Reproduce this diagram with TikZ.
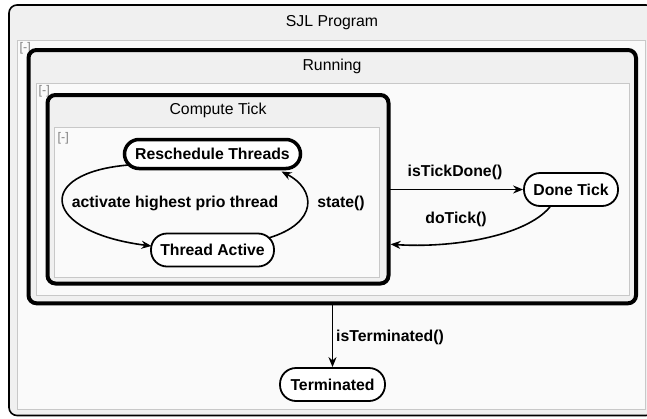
\documentclass[tikz,border=0pt]{standalone}
\usepackage{fontspec}
\setmainfont{Liberation Sans}
\usetikzlibrary{arrows.meta,calc}
\definecolor{hdr}{HTML}{F0F0F0}
\definecolor{inr}{HTML}{FAFAFA}
\definecolor{inrline}{HTML}{C8C8C8}
\definecolor{colgray}{HTML}{808080}
\tikzset{
  container/.style={draw=black, line width=4pt, rounded corners=8pt, fill=hdr, outer sep=0pt, inner sep=0pt, anchor=north west},
  outerbox/.style={draw=black, line width=1.6pt, rounded corners=8pt, fill=hdr, outer sep=0pt, inner sep=0pt, anchor=north west},
  region/.style={draw=inrline, line width=1pt, fill=inr},
  boxtitle/.style={font=\fontsize{15.8}{18}\selectfont, inner sep=0pt},
  collapse/.style={text=colgray, font=\fontsize{12.5}{14}\selectfont, inner sep=0pt, anchor=north west},
  statebox/.style={draw=black, line width=1.8pt, rounded corners=16pt, fill=white, font=\bfseries\fontsize{15.8}{18}\selectfont, inner sep=0pt, minimum height=33pt},
  trans/.style={line width=1.6pt, -{Stealth[length=10pt,width=8pt]}},
  lbl/.style={font=\bfseries\fontsize{15.8}{18}\selectfont, inner sep=0pt}
}
\begin{document}
\begin{tikzpicture}[x=1pt,y=-1pt]
\useasboundingbox (0,0) rectangle (647,418);
\clip (0,0) rectangle (647,418);
\fill[white] (0,0) rectangle (647,418);

% SJL Program
\node[outerbox, minimum width=645pt, minimum height=410.5pt] (sjl) at (9,5) {};
\node[boxtitle] (sjltitle) at (332,23) {SJL Program};
\fill[region] (17.5,40) rectangle (645.5,409);
\node[collapse] (sjlcol) at (19.5,42) {[-]};

% Running
\node[container, minimum width=607.5pt, minimum height=253.3pt] (running) at (28.5,50) {};
\node[boxtitle] (runtitle) at (332,66.5) {Running};
\fill[region] (36,83) rectangle (629,295.5);
\node[collapse] (runcol) at (38.5,85) {[-]};

% Compute Tick
\node[container, minimum width=341pt, minimum height=188.5pt] (ctick) at (47.5,95) {};
\node[boxtitle] (cttitle) at (218,110) {Compute Tick};
\fill[region] (54.5,127) rectangle (379.5,277);
\node[collapse] (ctcol) at (57.5,132) {[-]};

% States
\node[statebox, line width=3.5pt, minimum width=176pt, minimum height=29pt, rounded corners=14.5pt] (resched) at (212.5,154) {Reschedule Threads};
\node[statebox, minimum width=123pt] (active) at (212.5,250) {Thread Active};
\node[statebox, minimum width=94pt] (done) at (571,189.5) {Done Tick};
\node[statebox, minimum width=105pt] (term) at (332.5,384.5) {Terminated};

% Transitions
\draw[trans] ($(resched.center)+(-84,11)$) .. controls +(-95,8) and +(-110,-14) .. ($(active.center)+(-61,-4)$);
\node[lbl] (lact) at (175,203) {activate highest prio thread};

\draw[trans] ($(active.center)+(56,-12)$) .. controls +(50,-15) and +(35,18) .. ($(resched.center)+(69,17.5)$);
\node[lbl] (lstate) at (341,203) {state()};

\draw[trans] (ctick.east |- done.west) -- (done.west);
\node[lbl] (ldone) at (455,172) {isTickDone()};

\draw[trans] ($(done.south)+(-21,0)$) .. controls +(-25,30) and +(60,4) .. ($(ctick.east)+(2,55)$);
\node[lbl] (ldo) at (456,219) {doTick()};

\draw[trans] (running.south -| term.north) -- (term.north);
\node[lbl, anchor=west] (lterm) at (336,337) {isTerminated()};
\end{tikzpicture}
\end{document}
